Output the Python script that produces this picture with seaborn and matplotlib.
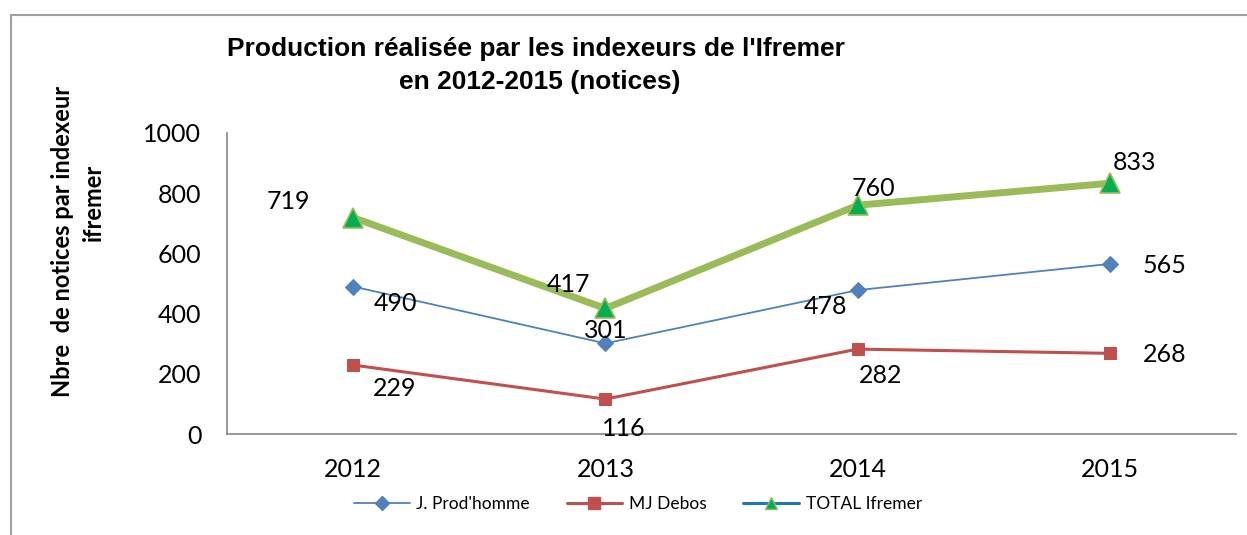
import matplotlib
matplotlib.use("Agg")
import matplotlib.pyplot as plt
import seaborn as sns
import pandas as pd
from matplotlib.lines import Line2D
from matplotlib.patches import Rectangle

years = ["2012", "2013", "2014", "2015"]
prodhomme = [490, 301, 478, 565]
debos = [229, 116, 282, 268]
total = [719, 417, 760, 833]
series_names = ["J. Prod'homme", "MJ Debos", "TOTAL Ifremer"]
y_ticks = [0, 200, 400, 600, 800, 1000]

sns.set_theme(style="white")
plt.rcParams['font.family'] = ['Lato', 'DejaVu Sans']
plt.rcParams['text.color'] = 'black'

W, H = 1247, 535
fig = plt.figure(figsize=(W / 100, H / 100), dpi=100)
ax = fig.add_axes([227 / W, 1 - 434 / H, 1009 / W, (434 - 133) / H])

df = pd.DataFrame({"year": years, "J": prodhomme, "MJ": debos, "T": total})

sns.lineplot(data=df, x="year", y="T", ax=ax, color="#9BBB59", lw=5,
             marker="^", markersize=15, markerfacecolor="#00B050",
             markeredgecolor="#9BBB59", markeredgewidth=1.2, sort=False, zorder=3)
sns.lineplot(data=df, x="year", y="J", ax=ax, color="#4F81BD", lw=1.3,
             marker="D", markersize=8, markerfacecolor="#4F81BD",
             markeredgecolor="#4F81BD", sort=False, zorder=4)
sns.lineplot(data=df, x="year", y="MJ", ax=ax, color="#C0504D", lw=2.2,
             marker="s", markersize=9, markerfacecolor="#C0504D",
             markeredgecolor="#C0504D", sort=False, zorder=4)

ax.set_xlim(-0.5, 3.5)
ax.set_ylim(0, 1000)
ax.set_yticks(y_ticks)
ax.set_xlabel("")
ax.set_ylabel("")
ax.tick_params(axis="both", length=0, labelsize=18, colors="black")
ax.tick_params(axis="y", pad=18.5)
ax.tick_params(axis="x", pad=17)
for s in ["top", "right"]:
    ax.spines[s].set_visible(False)
for s in ["left", "bottom"]:
    ax.spines[s].set_color("#868686")
    ax.spines[s].set_linewidth(1.2)

# data labels (offsets in pixels)
offs_J = [(42, -17), (0, 13), (-32, -16), (55, -2)]
offs_MJ = [(42, -23), (18, -29), (23, -26), (55, -1)]
offs_T = [(-65, 16), (-37, 24), (16, 17), (25, 21)]
for vals, offs in [(prodhomme, offs_J), (debos, offs_MJ), (total, offs_T)]:
    for i, (v, o) in enumerate(zip(vals, offs)):
        ax.annotate(str(v), (i, v), xytext=o, textcoords="offset pixels",
                    ha="center", va="center", fontsize=18, color="black",
                    zorder=6)

# title
fig.text(536 / W, 1 - 49 / H, "Production réalisée par les indexeurs de l'Ifremer",
         ha="center", va="center", fontsize=19, fontweight="bold", color="black",
         family=["Liberation Sans", "DejaVu Sans"])
fig.text(540 / W, 1 - 82 / H, "en 2012-2015 (notices)",
         ha="center", va="center", fontsize=19, fontweight="bold", color="black",
         family=["Liberation Sans", "DejaVu Sans"])

# y label
fig.text(63 / W, 1 - 241 / H, "Nbre  de notices par indexeur", rotation=90,
         ha="center", va="center", fontsize=17, fontweight="bold", color="black")
fig.text(93 / W, 1 - 202 / H, "ifremer", rotation=90,
         ha="center", va="center", fontsize=17, fontweight="bold", color="black")

# legend
handles = [
    Line2D([], [], color="#4F81BD", lw=1.3, marker="D", markersize=7,
           markerfacecolor="#4F81BD", markeredgecolor="#4F81BD"),
    Line2D([], [], color="#C0504D", lw=2.2, marker="s", markersize=8,
           markerfacecolor="#C0504D", markeredgecolor="#C0504D"),
    Line2D([], [], color="#1F77C4", lw=2.2, marker="^", markersize=9,
           markerfacecolor="#00B050", markeredgecolor="#9BBB59"),
]
leg = fig.legend(handles, series_names, loc="center",
                 bbox_to_anchor=(638 / W, 1 - 504 / H),
                 ncol=3, frameon=False, fontsize=12.5, handlelength=3.2,
                 columnspacing=2.1, handletextpad=0.4)
for t in leg.get_texts():
    t.set_color("black")

# outer frame (cut off at right and bottom)
fig.patches.append(Rectangle((11 / W, -0.1), 1.2, 1 - 15 / H + 0.1,
                             transform=fig.transFigure, fill=False,
                             edgecolor="#A0A0A0", lw=1.5, clip_on=False))

fig.savefig("out.png", dpi=100)
